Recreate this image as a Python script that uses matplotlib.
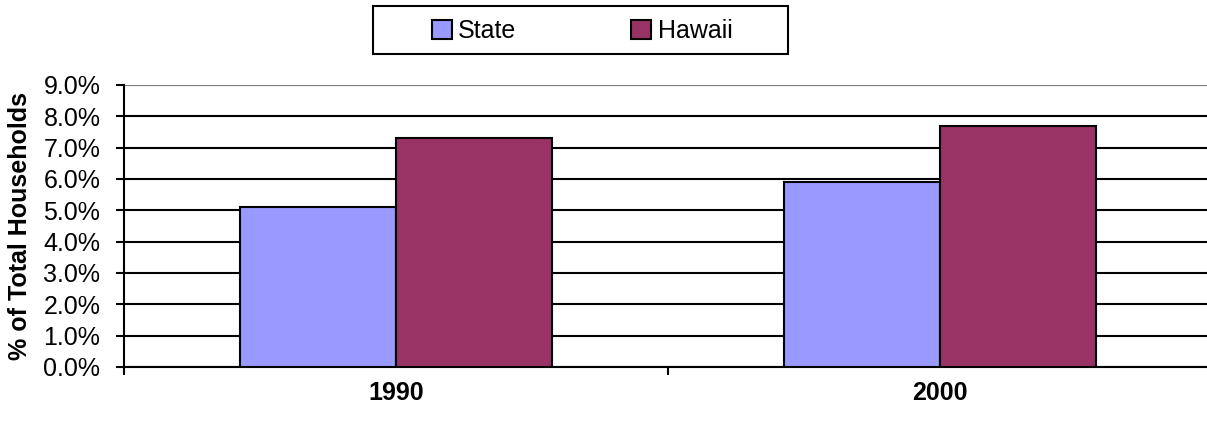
import numpy as np
import matplotlib
matplotlib.use("Agg")
import matplotlib.pyplot as plt
from matplotlib.patches import Rectangle

plt.rcParams['font.family'] = ['Liberation Sans', 'DejaVu Sans']

# data
years = ["1990", "2000"]
series = ["State", "Hawaii"]
state_vals = [5.1, 5.9]
hawaii_vals = [7.3, 7.7]
colors = ["#9999FF", "#993366"]

fs = 18
W, H = 1207, 421

fig = plt.figure(figsize=(12.07, 4.21), dpi=100)
ax = fig.add_axes([124 / W, 1 - 367 / H, 1088 / W, 282 / H])

x = np.arange(len(years))
w = 0.287
ax.bar(x - w / 2, state_vals, w, color=colors[0], edgecolor="black", linewidth=1.5,
       label=series[0], zorder=3)
ax.bar(x + w / 2, hawaii_vals, w, color=colors[1], edgecolor="black", linewidth=1.5,
       label=series[1], zorder=3)

ax.set_xlim(-0.5, 1.5)
ax.set_ylim(0, 9)
ax.set_yticks(np.arange(0, 9.1, 1))
ax.set_yticklabels(["%.1f%%" % v for v in np.arange(0, 9.1, 1)], fontsize=fs)
ax.yaxis.grid(True, color="black", linewidth=1.5, zorder=0)
ax.set_axisbelow(True)

# category ticks between groups, labels at centers
ax.set_xticks([-0.5, 0.5, 1.5])
ax.set_xticklabels([])
ax.set_xticks(x, minor=True)
ax.set_xticklabels(years, minor=True, fontsize=fs, fontweight="bold")
ax.tick_params(axis="x", which="minor", length=0, pad=10)
ax.tick_params(axis="x", which="major", length=6, width=1.5, direction="out")
ax.tick_params(axis="y", length=6, width=1.5, direction="out", pad=11)

for s in ["top", "right"]:
    ax.spines[s].set_visible(False)
ax.spines["left"].set_linewidth(1.5)
ax.spines["bottom"].set_linewidth(1.5)
ax.axhline(9, color="#808080", linewidth=1.5, zorder=1)

ax.set_ylabel("% of Total Households", fontsize=fs, fontweight="bold", labelpad=8)

# legend box drawn separately so its padding matches
fig.patches.append(Rectangle((373 / W, 1 - 54 / H), 415 / W, 48 / H,
                             transform=fig.transFigure, facecolor="white",
                             edgecolor="black", linewidth=1.5))
leg = fig.legend(loc="center", bbox_to_anchor=(582 / W, 1 - 31 / H),
                 ncol=2, frameon=False, fontsize=fs,
                 handlelength=0.8, handleheight=0.8, handletextpad=0.25, columnspacing=4.6)

fig.savefig("out.png", dpi=100)
